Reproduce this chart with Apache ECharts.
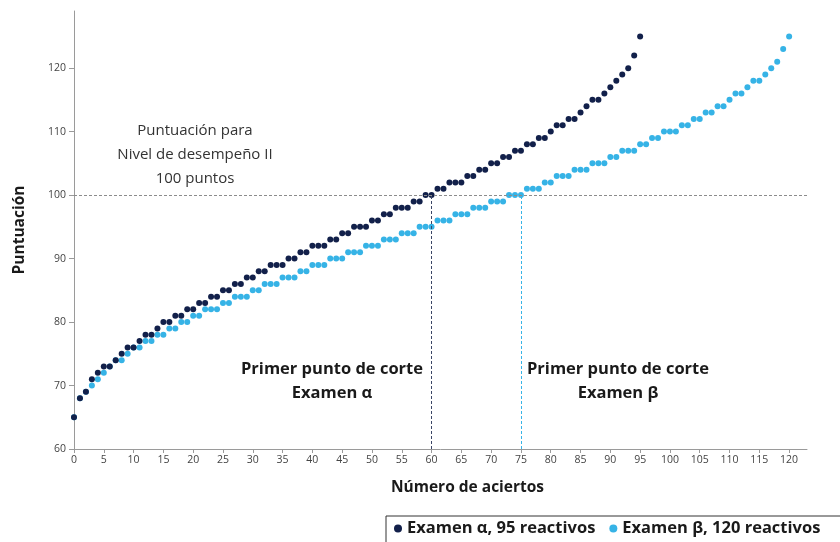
<!DOCTYPE html>
<html>
<head>
<meta charset="utf-8">
<script src="https://cdn.jsdelivr.net/npm/echarts@6/dist/echarts.min.js"></script>
<style>
  html, body { margin: 0; padding: 0; background: #fff; }
  #chart { width: 840px; height: 542px; }
</style>
</head>
<body>
<div id="chart"></div>
<script>
// puntuacion por numero de aciertos (indice = aciertos)
const alphaScores = [
  65, 68, 69, 71, 72, 73, 73, 74, 75, 76, 76, 77, 78, 78, 79, 80, 80, 81, 81, 82,
  82, 83, 83, 84, 84, 85, 85, 86, 86, 87, 87, 88, 88, 89, 89, 89, 90, 90, 91, 91,
  92, 92, 92, 93, 93, 94, 94, 95, 95, 95, 96, 96, 97, 97, 98, 98, 98, 99, 99, 100,
  100, 101, 101, 102, 102, 102, 103, 103, 104, 104, 105, 105, 106, 106, 107, 107, 108, 108, 109, 109,
  110, 111, 111, 112, 112, 113, 114, 115, 115, 116, 117, 118, 119, 120, 122, 125
];
const betaScores = [
  65, 68, 69, 70, 71, 72, 73, 74, 74, 75, 76, 76, 77, 77, 78, 78, 79, 79, 80, 80,
  81, 81, 82, 82, 82, 83, 83, 84, 84, 84, 85, 85, 86, 86, 86, 87, 87, 87, 88, 88,
  89, 89, 89, 90, 90, 90, 91, 91, 91, 92, 92, 92, 93, 93, 93, 94, 94, 94, 95, 95,
  95, 96, 96, 96, 97, 97, 97, 98, 98, 98, 99, 99, 99, 100, 100, 100, 101, 101, 101, 102,
  102, 103, 103, 103, 104, 104, 104, 105, 105, 105, 106, 106, 107, 107, 107, 108, 108, 109, 109, 110,
  110, 110, 111, 111, 112, 112, 113, 113, 114, 114, 115, 116, 116, 117, 118, 118, 119, 120, 121, 123,
  125
];
const xTicks = [0, 5, 10, 15, 20, 25, 30, 35, 40, 45, 50, 55, 60, 65, 70, 75, 80, 85, 90, 95, 100, 105, 110, 115, 120];
const yTicks = [60, 70, 80, 90, 100, 110, 120];
const cutScore = 100;
const cutAlpha = 60;
const cutBeta = 75;

const navy = "#12204a";
const sky = "#36b3e6";
const font = "Open Sans";

let chart = echarts.init(document.getElementById("chart"));

// texto centrado en cx, varias lineas
const note = (cx, top, text, bold, size) => ({
  type: "text",
  x: cx,
  y: top,
  style: {
    text: text,
    textAlign: "center",
    align: "center",
    font: (bold ? "bold " : "") + size + "px '" + font + "'",
    lineHeight: 24,
    fill: bold ? "#1a1a1a" : "#333",
  },
});

chart.setOption({
  animation: false,
  textStyle: { fontFamily: font },
  grid: { left: 74, right: 33, top: 11, bottom: 93 },
  xAxis: {
    type: "value",
    min: 0,
    max: 123,
    interval: 5,
    name: "Número de aciertos",
    nameLocation: "middle",
    nameGap: 31,
    nameTextStyle: { fontSize: 15.5, fontWeight: "bold", color: "#1a1a1a", padding: [0, 0, 0, 54] },
    splitLine: { show: false },
    axisLine: { lineStyle: { color: "#9a9a9a" } },
    axisTick: { length: 4, customValues: xTicks, lineStyle: { color: "#9a9a9a" } },
    axisLabel: { customValues: xTicks, fontSize: 10.5, color: "#444", margin: 6 },
  },
  yAxis: {
    type: "value",
    min: 60,
    max: 129,
    interval: 10,
    name: "Puntuación",
    nameLocation: "middle",
    nameGap: 46,
    nameTextStyle: { fontSize: 15.5, fontWeight: "bold", color: "#1a1a1a" },
    splitLine: { show: false },
    axisLine: { show: true, lineStyle: { color: "#9a9a9a" } },
    axisTick: { show: true, length: 5, customValues: yTicks, lineStyle: { color: "#9a9a9a" } },
    axisLabel: { customValues: yTicks, fontSize: 10.5, color: "#444", margin: 8 },
  },
  legend: {
    left: 386,
    top: 516,
    width: 480,
    orient: "horizontal",
    data: ["Examen α, 95 reactivos", "Examen β, 120 reactivos"],
    icon: "circle",
    itemWidth: 8,
    itemHeight: 8,
    itemGap: 14,
    padding: [4, 30, 6, 8],
    borderColor: "#333",
    borderWidth: 1,
    textStyle: { fontSize: 16.5, fontWeight: "bold", color: "#1a1a1a" },
  },
  graphic: [
    note(195, 119, "Puntuación para\nNivel de desempeño II\n100 puntos", false, 15),
    note(332, 357, "Primer punto de corte\nExamen α", true, 16.5),
    note(618, 357, "Primer punto de corte\nExamen β", true, 16.5),
  ],
  series: [
    {
      type: "scatter",
      name: "Examen α, 95 reactivos",
      z: 4,
      symbolSize: 6,
      itemStyle: { color: navy, opacity: 1 },
      data: alphaScores.map((v, i) => [i, v]),
      markLine: {
        silent: true,
        symbol: "none",
        label: { show: false },
        data: [
          [
            { coord: [0, cutScore], lineStyle: { color: "#8c8c8c", type: [3, 2], width: 1 } },
            { coord: [123, cutScore] },
          ],
          [
            { coord: [cutAlpha, 60], lineStyle: { color: "#3a4566", type: [3, 2], width: 1 } },
            { coord: [cutAlpha, cutScore] },
          ],
        ],
      },
    },
    {
      type: "scatter",
      name: "Examen β, 120 reactivos",
      z: 3,
      symbolSize: 6,
      itemStyle: { color: sky, opacity: 1 },
      data: betaScores.map((v, i) => [i, v]),
      markLine: {
        silent: true,
        symbol: "none",
        label: { show: false },
        data: [
          [
            { coord: [cutBeta, 60], lineStyle: { color: sky, type: [3, 2], width: 1 } },
            { coord: [cutBeta, cutScore] },
          ],
        ],
      },
    },
  ],
});
</script>
</body>
</html>
